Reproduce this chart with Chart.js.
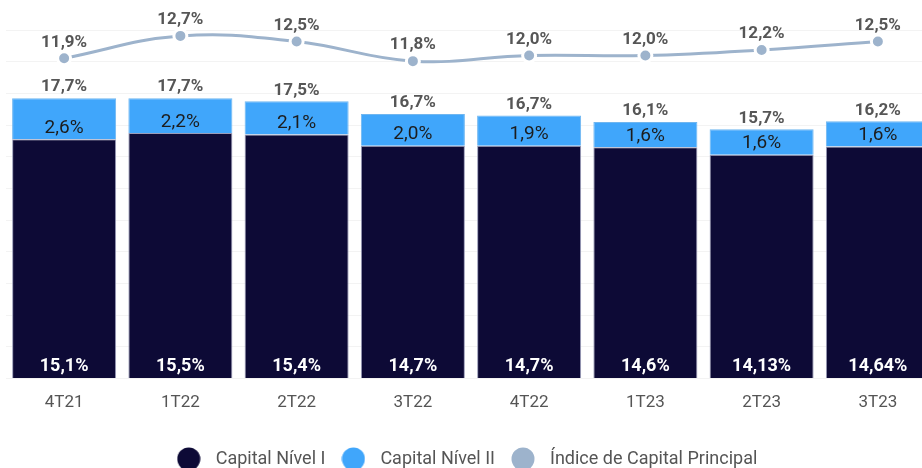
<!DOCTYPE html>
<html>
<head>
<meta charset="utf-8">
<script src="https://cdn.jsdelivr.net/npm/chart.js@4.4.0/dist/chart.umd.min.js"></script>
<style>
  html, body { margin: 0; padding: 0; background: #fff; overflow: hidden; }
  #wrap { width: 940px; height: 478px; }
</style>
</head>
<body>
<div id="wrap"><canvas id="graphic"></canvas></div>
<script>
const categories = ['4T21', '1T22', '2T22', '3T22', '4T22', '1T23', '2T23', '3T23'];
const nivel1 = [15.1, 15.5, 15.4, 14.7, 14.7, 14.6, 14.13, 14.64];
const nivel2 = [2.6, 2.2, 2.1, 2.0, 1.9, 1.6, 1.6, 1.6];
const totais = [17.7, 17.7, 17.5, 16.7, 16.7, 16.1, 15.7, 16.2];
const indice = [11.9, 12.7, 12.5, 11.8, 12.0, 12.0, 12.2, 12.5];

const NAVY = '#0d0a36';
const BLUE = '#40a6fb';
const GREY = '#9db3cc';
const FONT = 'Roboto';

const fmt = (v) => {
  const dec = Math.round(v * 100) % 10 ? 2 : 1;
  return v.toFixed(dec).replace('.', ',') + '%';
};

// small circle images for the legend markers
function dot(color) {
  const c = document.createElement('canvas');
  c.width = 24; c.height = 24;
  const g = c.getContext('2d');
  g.fillStyle = color;
  g.beginPath();
  g.arc(12, 12, 11.5, 0, Math.PI * 2);
  g.fill();
  return c;
}
const dots = [dot(NAVY), dot(BLUE), dot(GREY)];

const labelsPlugin = {
  id: 'valueLabels',
  afterLayout(chart) {
    // nudge the legend a little to the left
    chart.legend.left -= 7;
    chart.legend.right -= 7;
  },
  afterDatasetsDraw(chart) {
    const { ctx } = chart;
    const m1 = chart.getDatasetMeta(0).data;
    const m2 = chart.getDatasetMeta(1).data;
    const m3 = chart.getDatasetMeta(2).data;
    ctx.save();
    ctx.textAlign = 'center';
    ctx.textBaseline = 'middle';
    m1.forEach((bar, i) => {
      ctx.font = `bold 18px ${FONT}`;
      ctx.fillStyle = '#ffffff';
      ctx.fillText(fmt(nivel1[i]), bar.x, bar.base - 12);
    });
    m2.forEach((bar, i) => {
      ctx.font = `19px ${FONT}`;
      ctx.fillStyle = '#1c1c1c';
      ctx.fillText(fmt(nivel2[i]), bar.x, bar.base - 11);
      ctx.font = `bold 17px ${FONT}`;
      ctx.fillStyle = '#565656';
      ctx.fillText(fmt(totais[i]), bar.x, bar.y - 11);
    });
    m3.forEach((pt, i) => {
      ctx.font = `bold 17px ${FONT}`;
      ctx.fillStyle = '#565656';
      ctx.fillText(fmt(indice[i]), pt.x, pt.y - 16);
    });
    ctx.restore();
  },
};

const ctx = document.querySelector('#graphic').getContext('2d');
const graphic = new Chart(ctx, {
  data: {
    labels: categories,
    datasets: [
      {
        type: 'bar',
        label: 'Capital Nível I',
        data: nivel1,
        backgroundColor: NAVY,
        borderColor: '#9a9cb8',
        borderWidth: 1,
        stack: 'cap',
        yAxisID: 'y',
      },
      {
        type: 'bar',
        label: 'Capital Nível II',
        data: nivel2,
        backgroundColor: BLUE,
        borderColor: '#6fb6f0',
        borderWidth: 1,
        stack: 'cap',
        yAxisID: 'y',
      },
      {
        type: 'line',
        label: 'Índice de Capital Principal',
        data: indice,
        borderColor: GREY,
        backgroundColor: GREY,
        borderWidth: 3,
        tension: 0.4,
        pointRadius: 6.5,
        pointBorderWidth: 3,
        pointBorderColor: '#ffffff',
        pointBackgroundColor: GREY,
        yAxisID: 'y2',
        clip: false,
      },
    ],
  },
  options: {
    responsive: true,
    maintainAspectRatio: false,
    animation: false,
    layout: { autoPadding: false, padding: { top: 30, left: 6, right: 4, bottom: 0 } },
    datasets: { bar: { barPercentage: 0.895, categoryPercentage: 1 } },
    scales: {
      x: {
        stacked: true,
        grid: { display: false },
        border: { display: false },
        ticks: { color: '#555555', font: { family: FONT, size: 17 }, padding: 6 },
        afterFit(scale) { scale.height += 21; },
      },
      y: {
        stacked: true,
        min: 0,
        max: 22,
        grid: { color: '#f3f3f3', drawTicks: false },
        border: { display: false },
        ticks: { display: false, stepSize: 2 },
        afterFit(scale) { scale.width = 0; },
      },
      y2: {
        display: false,
        min: 0.48,
        max: 12.91,
      },
    },
    plugins: {
      tooltip: { enabled: false },
      legend: {
        position: 'bottom',
        labels: {
          color: '#555555',
          font: { family: FONT, size: 18 },
          usePointStyle: true,
          pointStyleWidth: 36,
          padding: 10,
          generateLabels(chart) {
            const items = Chart.defaults.plugins.legend.labels.generateLabels(chart);
            items.sort((a, b) => a.datasetIndex - b.datasetIndex);
            items.forEach((item) => { item.pointStyle = dots[item.datasetIndex]; });
            return items;
          },
        },
      },
    },
  },
  plugins: [labelsPlugin],
});
graphic.render();
</script>
</body>
</html>
